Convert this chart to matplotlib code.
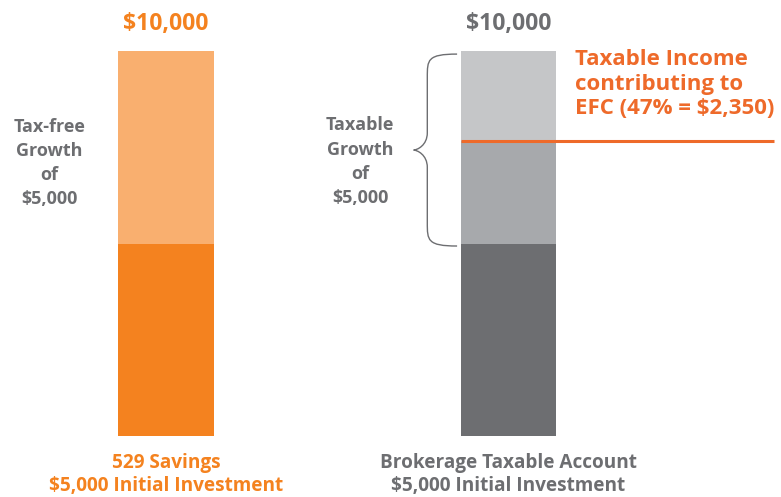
import numpy as np
import matplotlib.pyplot as plt
from matplotlib.path import Path
from matplotlib.patches import PathPatch

plt.rcParams['font.family'] = ['Open Sans', 'DejaVu Sans']

accounts = ['529 Savings', 'Brokerage Taxable Account']
initial = [5000, 5000]
growth = [5000, 5000]
taxable_income = 2350  # 47% of growth
total = [i + g for i, g in zip(initial, growth)]

orange_dark = '#F4821F'
orange_light = '#F9AF6F'
gray_dark = '#6D6E71'
gray_mid = '#A7A9AC'
gray_light = '#C5C6C8'
line_orange = '#EE6A2A'
text_gray = '#6D6E71'

fig = plt.figure(figsize=(7.81, 4.97), dpi=100)
ax = fig.add_axes([0, 0, 1, 1])
ax.set_xlim(-0.485, 1.796)
ax.set_ylim(-1584, 11325)
ax.axis('off')

x = np.arange(len(accounts))
w = 0.28

# 529 bar
ax.bar(x[0], initial[0], width=w, color=orange_dark)
ax.bar(x[0], growth[0], bottom=initial[0], width=w, color=orange_light)

# brokerage bar
ax.bar(x[1], initial[1], width=w, color=gray_dark)
ax.bar(x[1], growth[1] - taxable_income, bottom=initial[1], width=w, color=gray_mid)
ax.bar(x[1], taxable_income, bottom=total[1] - taxable_income, width=w, color=gray_light)

# taxable line
ax.plot([x[1] - w / 2, 1.775], [total[1] - taxable_income] * 2, color=line_orange, lw=2.2,
        solid_capstyle='butt')

# totals on top
ax.text(x[0], 10700, '${:,}'.format(total[0]), ha='center', va='center', color=orange_dark,
        fontsize=16.5, fontweight='bold')
ax.text(x[1], 10700, '${:,}'.format(total[1]), ha='center', va='center', color=text_gray,
        fontsize=16.5, fontweight='bold')

# side labels
ax.text(-0.34, 7090, 'Tax-free\nGrowth\nof\n${:,}'.format(growth[0]), ha='center', va='center',
        color=text_gray, fontsize=13, fontweight='bold', linespacing=1.45)
ax.text(x[1] - 0.433, 7120, 'Taxable\nGrowth\nof\n${:,}'.format(growth[1]), ha='center',
        va='center', color=text_gray, fontsize=13, fontweight='bold', linespacing=1.45)

ax.text(x[1] + 0.195, 9140,
        'Taxable Income\ncontributing to\nEFC (47% = ${:,})'.format(taxable_income),
        ha='left', va='center', color=line_orange, fontsize=16, fontweight='bold', linespacing=1.2)

# bottom labels
ax.text(x[0], -1000, '529 Savings\n$5,000 Initial Investment', ha='center', va='center',
        color=orange_dark, fontsize=13.7, fontweight='bold', linespacing=1.2)
ax.text(x[1], -1000, 'Brokerage Taxable Account\n$5,000 Initial Investment', ha='center',
        va='center', color=text_gray, fontsize=13.7, fontweight='bold', linespacing=1.2)

# curly brace
xe = x[1] - w / 2 - 0.01
xs = x[1] - w / 2 - 0.097
xt = x[1] - w / 2 - 0.137
y0, y1 = 4935, 9920
ym = (y0 + y1) / 2
verts = [
    (xe, y1), (xs, y1), (xs, y1 - 150), (xs, y1 - 600),
    (xs, ym + 450),
    (xs, ym + 120), (xt + 0.01, ym), (xt, ym),
    (xt + 0.01, ym), (xs, ym - 120), (xs, ym - 450),
    (xs, y0 + 600),
    (xs, y0 + 150), (xs, y0), (xe, y0),
]
codes = [Path.MOVETO, Path.CURVE4, Path.CURVE4, Path.CURVE4,
         Path.LINETO,
         Path.CURVE4, Path.CURVE4, Path.CURVE4,
         Path.CURVE4, Path.CURVE4, Path.CURVE4,
         Path.LINETO,
         Path.CURVE4, Path.CURVE4, Path.CURVE4]
ax.add_patch(PathPatch(Path(verts, codes), fill=False, edgecolor=text_gray, lw=1.0))

fig.savefig('out.png', dpi=100)
